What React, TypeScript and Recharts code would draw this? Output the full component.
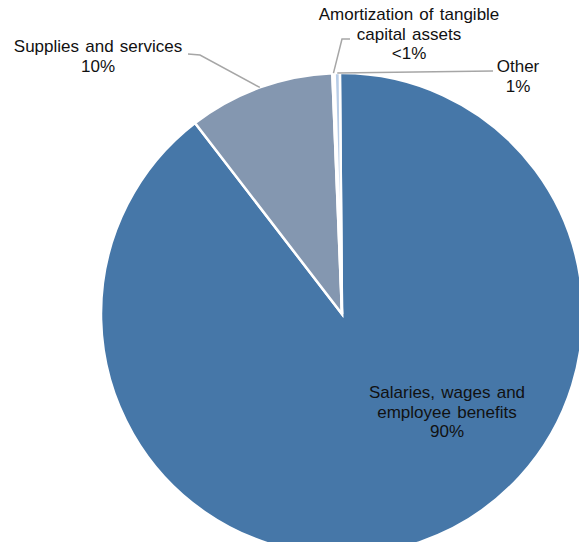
import { Cell, Pie, PieChart } from 'recharts';

const CATEGORIES = [
  'Salaries, wages and employee benefits',
  'Supplies and services',
  'Amortization of tangible capital assets',
  'Other',
];
const SHARES = [89.7, 9.8, 0.15, 0.35];
const SHARE_LABELS = ['90%', '10%', '<1%', '1%'];
const LABEL_LINES = [
  ['Salaries, wages and', 'employee benefits'],
  ['Supplies and services'],
  ['Amortization of tangible', 'capital assets'],
  ['Other'],
];
const COLORS = ['#4677A8', '#8497B0', '#DCE5F0', '#B7CCE6'];

// label placement relative to pie centre: text centre x, first baseline y, leader points
const LABEL_LAYOUT = [
  { x: 105, y: 84, line: null as null | number[][] },
  { x: -244, y: -262, line: [[-142, -259], [-154, -260]] },
  { x: 67, y: -294, line: [[0, -275], [8, -275]] },
  { x: 176, y: -242, line: [[151, -243]] },
];

const data = CATEGORIES.map((name, i) => ({ name, value: SHARES[i] }));

const RAD = Math.PI / 180;

function renderLabel(props: any) {
  const { cx, cy, midAngle, outerRadius, index } = props;
  const layout = LABEL_LAYOUT[index];
  const lines = [...LABEL_LINES[index], SHARE_LABELS[index]];
  const ex = cx + outerRadius * Math.cos(-midAngle * RAD);
  const ey = cy + outerRadius * Math.sin(-midAngle * RAD);
  let path = '';
  if (layout.line) {
    path = `M${ex},${ey}` + layout.line.map(([dx, dy]) => ` L${cx + dx},${cy + dy}`).join('');
  }
  return (
    <g key={`lbl-${index}`}>
      {path ? <path d={path} stroke="#A6A6A6" strokeWidth={1.5} fill="none" /> : null}
      <text
        x={cx + layout.x}
        y={cy + layout.y}
        textAnchor="middle"
        fill="#111"
        fontSize={17}
        wordSpacing={1.5}
        fontFamily="'Liberation Sans', Arial, sans-serif"
      >
        {lines.map((l, i) => (
          <tspan key={i} x={cx + layout.x} dy={i === 0 ? 0 : 19.5}>
            {l}
          </tspan>
        ))}
      </text>
    </g>
  );
}

export default function App() {
  return (
    <div style={{ position: 'absolute', left: 0, top: 0, width: 579, height: 542, background: '#fff', overflow: 'hidden' }}>
      <PieChart width={579} height={542} margin={{ top: 0, right: 0, bottom: 0, left: 0 }}>
        <Pie
          data={data}
          dataKey="value"
          nameKey="name"
          cx={342}
          cy={314}
          outerRadius={241}
          startAngle={90.5}
          endAngle={-269.5}
          stroke="#ffffff"
          strokeWidth={2.5}
          label={renderLabel}
          labelLine={false}
          isAnimationActive={false}
        >
          {data.map((d, i) => (
            <Cell key={d.name} fill={COLORS[i]} />
          ))}
        </Pie>
      </PieChart>
    </div>
  );
}
